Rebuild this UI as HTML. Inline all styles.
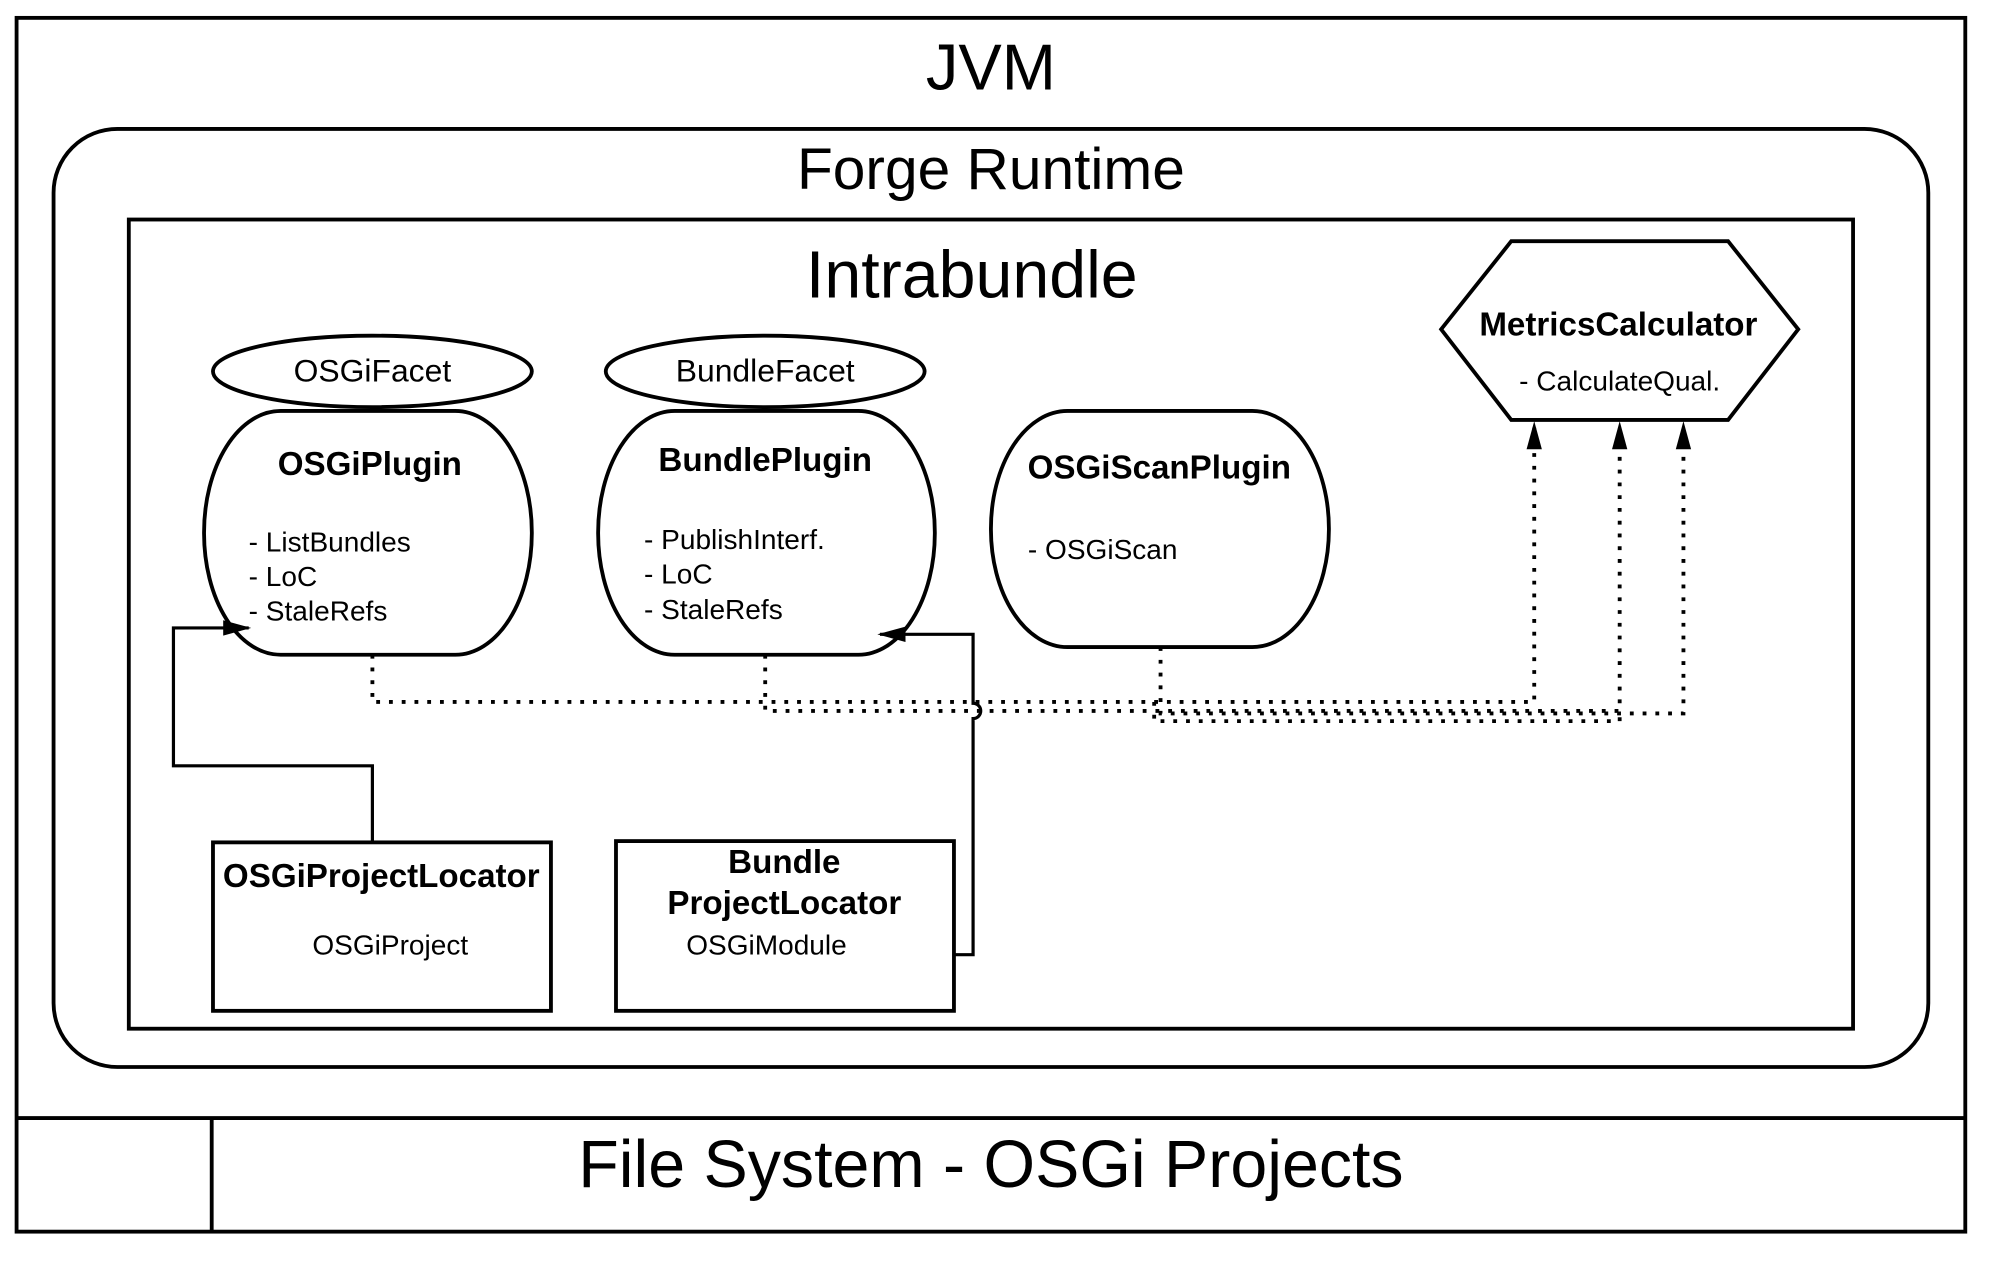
<!DOCTYPE html>
<html><head><style>html,body{margin:0;padding:0;background:#fff}svg{display:block}text{font-family:"Liberation Sans",sans-serif;fill:#000}</style></head>
<body>
<svg width="2001" height="1261" viewBox="0 0 1569 988" preserveAspectRatio="none" xmlns="http://www.w3.org/2000/svg">
<defs>
<marker id="b" markerWidth="22" markerHeight="22" refX="20" refY="6" orient="auto" markerUnits="userSpaceOnUse" viewBox="0 0 22 12"><path d="M0,0 L22,6 L0,12 z" fill="#000"/></marker></defs>
<g fill="none" stroke="#000" stroke-width="3">
<rect x="13" y="14" width="1528" height="951"/>
<line x1="13" y1="876" x2="1541" y2="876"/>
<line x1="166" y1="876" x2="166" y2="965"/>
<rect x="42" y="101" width="1470" height="735" rx="50"/>
<rect x="101" y="172" width="1352" height="634"/>
<ellipse cx="292" cy="291" rx="125" ry="28"/>
<ellipse cx="600" cy="291" rx="125" ry="28"/>
<rect x="160" y="322" width="257" height="191" rx="60" ry="95"/>
<rect x="469" y="322" width="264" height="191" rx="60" ry="95"/>
<rect x="777" y="322" width="265" height="185" rx="60" ry="92"/>
<polygon points="1130,258 1185,189 1355,189 1410,258 1355,329 1185,329"/>
<rect x="167" y="660" width="265" height="132"/>
<rect x="483" y="659" width="265" height="133"/>
</g>
<g fill="none" stroke="#000" stroke-width="2.5">
<path d="M292,660 V600 H136 V492 H195" marker-end="url(#b)"/>
<path d="M748,748 H763 V563 A6,6 0 0 0 763,551 V497 H690" marker-end="url(#b)"/>
</g>
<g fill="none" stroke="#000" stroke-width="3" stroke-dasharray="3,7">
<path d="M292,513 V550 H1203 V332" marker-end="url(#b)"/>
<path d="M600,513 V557 H1270 V332" marker-end="url(#b)"/>
<path d="M910,507 V559 H1320 V332" marker-end="url(#b)"/>
<path d="M905,550 V565 H1270 V557"/>
</g>
<g text-anchor="middle">
<text x="777" y="70" font-size="51">JVM</text>
<text x="777" y="148" font-size="46">Forge Runtime</text>
<text x="762" y="233" font-size="52">Intrabundle</text>
<text x="292" y="299" font-size="25">OSGiFacet</text>
<text x="600" y="299" font-size="25">BundleFacet</text>
<text x="290" y="372" font-size="26" font-weight="bold">OSGiPlugin</text>
<text x="600" y="369" font-size="26" font-weight="bold">BundlePlugin</text>
<text x="909" y="375" font-size="26" font-weight="bold">OSGiScanPlugin</text>
<text x="1269" y="263" font-size="26" font-weight="bold">MetricsCalculator</text>
<text x="1270" y="306" font-size="22">- CalculateQual.</text>
<text x="299" y="695" font-size="26" font-weight="bold">OSGiProjectLocator</text>
<text x="306" y="748" font-size="22">OSGiProject</text>
<text x="615" y="684" font-size="26" font-weight="bold">Bundle</text>
<text x="615" y="716" font-size="26" font-weight="bold">ProjectLocator</text>
<text x="601" y="748" font-size="22">OSGiModule</text>
<text x="777" y="930" font-size="52">File System - OSGi Projects</text>
</g>
<g font-size="22">
<text x="195" y="432">- ListBundles</text>
<text x="195" y="459">- LoC</text>
<text x="195" y="486">- StaleRefs</text>
<text x="505" y="430">- PublishInterf.</text>
<text x="505" y="457">- LoC</text>
<text x="505" y="485">- StaleRefs</text>
<text x="806" y="438">- OSGiScan</text>
</g>
</svg>
</body></html>
